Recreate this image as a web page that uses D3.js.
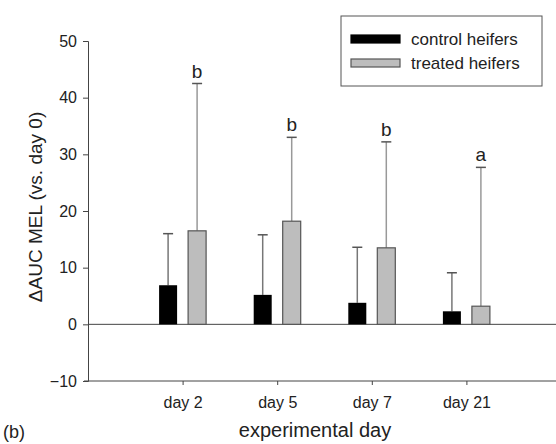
<!DOCTYPE html>
<html>
<head>
<meta charset="utf-8">
<script src="https://cdn.jsdelivr.net/npm/d3@7"></script>
<style>
  body { margin: 0; background: #fff; }
  text { font-family: "Liberation Sans", Arial, sans-serif; fill: #222; }
</style>
</head>
<body>
<div id="container"></div>
<script>
/* DATA */
const days = ["day 2", "day 5", "day 7", "day 21"]
const controlMean = [6.9, 5.2, 3.8, 2.3]
const controlErr = [9.1, 10.6, 9.8, 6.8]
const treatedMean = [16.5, 18.2, 13.5, 3.2]
const treatedErr = [26.0, 14.8, 18.7, 24.5]
const letters = ["b", "b", "b", "a"]
const yTicks = [-10, 0, 10, 20, 30, 40, 50]

/* CONSTANTS */
const width = 556, height = 444
const margin = { top: 41, bottom: 63, left: 88, right: -5 }
const barW = 18, offset = 14.5

const svg = d3.select("#container")
  .append("svg")
  .attr("width", width)
  .attr("height", height)

/* SCALES */
const xScale = d3.scalePoint()
  .domain(days)
  .range([margin.left, width - margin.right])
  .padding(1)

const yScale = d3.scaleLinear()
  .domain([-10, 50])
  .range([height - margin.bottom, margin.top])

const yAxis = d3.axisLeft(yScale).tickValues(yTicks).tickSize(5).tickPadding(6)
const xAxis = d3.axisBottom(xScale).tickSize(4).tickPadding(12)

// axes
const gy = svg.append("g")
  .attr("transform", `translate(${margin.left},0)`)
  .call(yAxis)
gy.select(".domain").attr("stroke", "#444")
gy.selectAll(".tick line").attr("stroke", "#444")
gy.selectAll(".tick text").style("font-size", "16px").attr("fill", "#222")

const gx = svg.append("g")
  .attr("transform", `translate(0,${yScale(-10)})`)
  .call(xAxis)
gx.select(".domain").attr("stroke", "#444").attr("d", `M${margin.left - 4},0H${width}`)
gx.selectAll(".tick line").attr("stroke", "#444")
gx.selectAll(".tick text").style("font-size", "16px").attr("fill", "#222")

// zero line
svg.append("line")
  .attr("x1", margin.left).attr("x2", width)
  .attr("y1", yScale(0)).attr("y2", yScale(0))
  .attr("stroke", "#444")

// error bars
function errBars(means, errs, dx, color) {
  const g = svg.append("g")
  days.forEach((d, i) => {
    const cx = xScale(d) + dx
    const top = yScale(means[i] + errs[i])
    g.append("line")
      .attr("x1", cx).attr("x2", cx)
      .attr("y1", yScale(means[i])).attr("y2", top)
      .attr("stroke", color).attr("stroke-width", 1.5)
    g.append("line")
      .attr("x1", cx - 5).attr("x2", cx + 5)
      .attr("y1", top).attr("y2", top)
      .attr("stroke", "#555").attr("stroke-width", 1.5)
  })
}
errBars(controlMean, controlErr, -offset, "#777")
errBars(treatedMean, treatedErr, offset, "#999")

// bars
svg.selectAll("rect.control")
  .data(controlMean)
  .join("rect")
  .attr("class", "control")
  .attr("x", (d, i) => xScale(days[i]) - offset - barW / 2)
  .attr("width", barW)
  .attr("y", d => yScale(d))
  .attr("height", d => yScale(0) - yScale(d))
  .attr("fill", "#000")

svg.selectAll("rect.treated")
  .data(treatedMean)
  .join("rect")
  .attr("class", "treated")
  .attr("x", (d, i) => xScale(days[i]) + offset - barW / 2)
  .attr("width", barW)
  .attr("y", d => yScale(d))
  .attr("height", d => yScale(0) - yScale(d))
  .attr("fill", "#bdbdbd")
  .attr("stroke", "#555")
  .attr("stroke-width", 1.2)

// significance letters
svg.selectAll("text.sig")
  .data(letters)
  .join("text")
  .attr("class", "sig")
  .attr("x", (d, i) => xScale(days[i]) + offset)
  .attr("y", (d, i) => yScale(treatedMean[i] + treatedErr[i]) - 6)
  .attr("text-anchor", "middle")
  .style("font-size", "19px")
  .text(d => d)

// axis titles
svg.append("text")
  .attr("transform", "translate(42,207) rotate(-90)")
  .attr("text-anchor", "middle")
  .style("font-size", "19px")
  .text("ΔAUC MEL (vs. day 0)")

svg.append("text")
  .attr("x", 315).attr("y", 437)
  .attr("text-anchor", "middle")
  .style("font-size", "20px")
  .text("experimental day")

svg.append("text")
  .attr("x", 3).attr("y", 438)
  .style("font-size", "18px")
  .text("(b)")

// legend
svg.append("rect")
  .attr("x", 341).attr("y", 16).attr("width", 201).attr("height", 70)
  .attr("fill", "#fff").attr("stroke", "#555")
const legendItems = [
  { label: "control heifers", fill: "#000", stroke: "#000" },
  { label: "treated heifers", fill: "#bdbdbd", stroke: "#555" }
]
legendItems.forEach((d, i) => {
  const y = 39 + i * 24
  svg.append("rect")
    .attr("x", 351).attr("y", y - 4).attr("width", 49).attr("height", 8)
    .attr("fill", d.fill).attr("stroke", d.stroke).attr("stroke-width", 1.2)
  svg.append("text")
    .attr("x", 411).attr("y", y + 6)
    .style("font-size", "17px")
    .text(d.label)
})
</script>
</body>
</html>
